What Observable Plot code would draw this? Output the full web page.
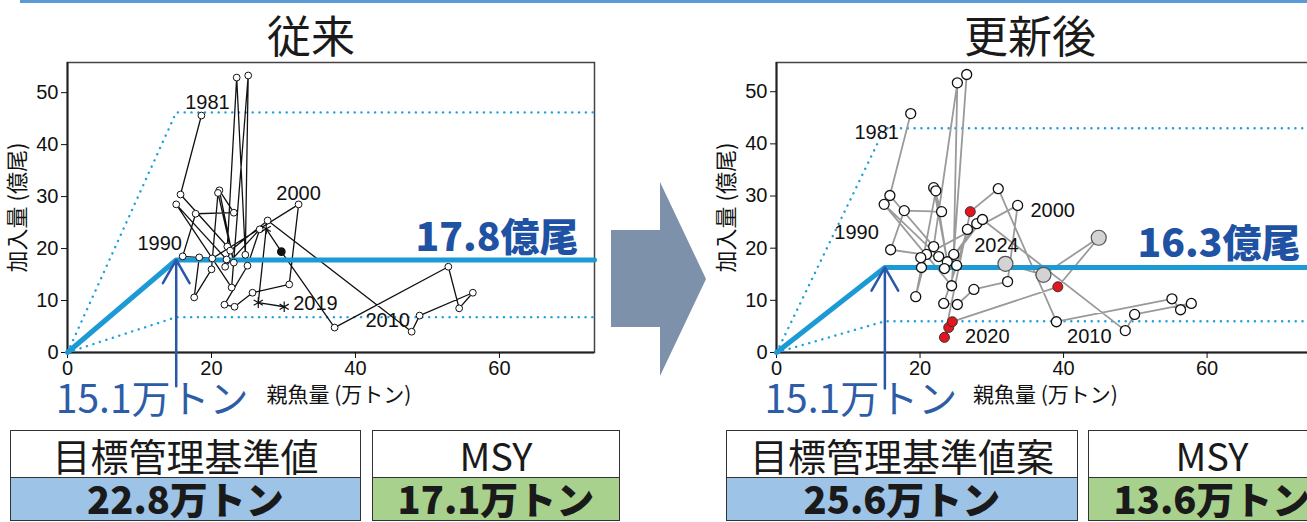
<!DOCTYPE html>
<html><head><meta charset="utf-8">
<script src="https://cdn.jsdelivr.net/npm/d3@7"></script>
<script src="https://cdn.jsdelivr.net/npm/@observablehq/plot@0.6"></script>
<style>
html,body{margin:0;padding:0;background:#fff;}
#wrap{position:relative;width:1307px;height:522px;overflow:hidden;font-family:"Noto Sans CJK JP",sans-serif;}
.title{position:absolute;top:10px;font-size:44px;line-height:48px;color:#1a1a1a;transform:translateX(-50%);white-space:nowrap;}
.cell{position:absolute;box-sizing:border-box;border:1.5px solid #333;display:flex;align-items:center;justify-content:center;white-space:nowrap;color:#1a1a1a;line-height:1;}
.hd{font-size:38px;height:49px;top:430px;background:#fff;}
.val{font-size:38px;font-weight:900;height:44px;top:477px;padding-bottom:2px;}
.plot{position:absolute;top:50px;}
.plot svg{max-width:none !important;}
</style></head><body>
<div id="wrap">
  <div style="position:absolute;left:20px;top:0;width:1300px;height:3px;background:#5b9bd5"></div>
  <div class="title" style="left:311px">従来</div>
  <div class="title" style="left:1030px">更新後</div>
  <svg style="position:absolute;left:0;top:0" width="1307" height="522"><polygon points="611,230 660,230 660,182 706,279 660,376 660,327 611,327" fill="#7d91aa"/></svg>
  <div id="left" class="plot" style="left:0px;width:620px"></div>
  <div id="right" class="plot" style="left:700px;width:630px"></div>
  <div id="tables"></div>
</div>
<script>
// ---------- data ----------
const oldYears = d3.range(1981, 2020);
const oldSSB = [18.6,15.7,22.2,23.5,24.7,25.1,22.8,15.1,22.1,16.0, 17.8,23.1,21.1,23.1,20.9,20.0,17.6,18.3,20.1,32.1, 30.8,25.7,23.2,21.8,25.0,26.7,21.9,22.6,27.8, 47.8,48.9,56.3,54.4,52.9,37.1,29.7,27.6,26.5,30.1];
const oldRec = [45.6,30.4,20.4,52.9,18.8,53.3,12.5,28.5,17.9,18.5, 26.7,26.9,31.2,17.3,30.7,16.0,10.6,18.3,18.1,28.5, 13.1,11.5,8.8,9.2,16.7,23.7,16.5,19.6,25.4, 4.0,7.1,11.5,8.5,16.5,4.8,19.4,23.8,9.6,8.8];
const oldKind = oldYears.map(y => y <= 2015 ? "open" : y === 2016 ? "filled" : "star");

const newYears = d3.range(1981, 2025);
const newSSB = [18.7,15.8,21.9,25.2,24.7,26.5,24.4,15.0,22.6,15.9, 17.8,23.0,21.9,23.8,22.2,20.2,19.4,20.9,20.1,33.6, 32.2,27.5,25.2,23.3,25.1,26.6,27.9,23.4,28.7, 48.6,49.9,57.8,56.3,55.1,39.0,30.9, 27.0,23.4,24.0,24.5,39.2, 44.9,37.2,31.9];
const newRec = [45.8,30.1,20.3,51.7,18.8,53.3,12.8,28.4,18.4,19.7, 27.2,27.0,31.6,17.4,31.0,16.3,10.7,18.8,18.2,28.2, 13.6,12.1,9.2,9.4,16.7,23.6,24.7,16.1,25.5, 4.2,7.3,9.4,8.2,10.3,5.9,31.4, 27.0,2.9,4.8,5.9,12.6, 22.0,14.9,17.0];
const newKind = newYears.map(y => y <= 2016 ? "open" : y <= 2021 ? "red" : "gray");

const bLimit = 15.1;                       // 万トン
const oldRecLevels = [6.8, 17.8, 46.2];    // 億尾 : low, target, high
const newRecLevels = [6.0, 16.3, 43.0];
const xTicks = [0, 20, 40, 60];
const yTicks = [0, 10, 20, 30, 40, 50];
const tableHeads = [["目標管理基準値", "MSY"], ["目標管理基準値案", "MSY"]];
const tableVals = [["22.8万トン", "17.1万トン"], ["25.6万トン", "13.6万トン"]];

const oldRows = oldYears.map((year, i) => ({year, ssb: oldSSB[i], rec: oldRec[i], kind: oldKind[i]}));
const newRows = newYears.map((year, i) => ({year, ssb: newSSB[i], rec: newRec[i], kind: newKind[i]}));

const JP = "Noto Sans CJK JP";
const BLUE = "#1b9ad6";

function hcr(level, xMax) { return [{x: 0, y: 0}, {x: bLimit, y: level}, {x: xMax, y: level}]; }

function panel(o) {
  const [lo, mid, hi] = o.levels;
  const marks = [
    Plot.frame({stroke: "#444", strokeWidth: 1.5}),
    Plot.ruleX([0], {stroke: "#222", strokeWidth: 2}),
    Plot.ruleY([0], {stroke: "#222", strokeWidth: 2}),
    Plot.axisY({ticks: yTicks, tickSize: 6, tickPadding: 3, label: null, fontSize: 20}),
    Plot.axisX({ticks: xTicks, tickSize: 6, tickPadding: 2, label: null, fontSize: 20}),
    Plot.line(hcr(hi, o.xMax), {x: "x", y: "y", stroke: "#1ea0dc", strokeWidth: 2.4, strokeDasharray: "0.1,6.7", strokeLinecap: "round"}),
    Plot.line(hcr(lo, o.xMax), {x: "x", y: "y", stroke: "#1ea0dc", strokeWidth: 2.4, strokeDasharray: "0.1,6.7", strokeLinecap: "round"}),
    Plot.line(o.rows, {x: "ssb", y: "rec", stroke: o.lineStroke, strokeWidth: o.lineWidth}),
    Plot.line(hcr(mid, o.xMax), {x: "x", y: "y", stroke: BLUE, strokeWidth: 5}),
    ...o.dots,
    ...o.labels.map(([year, dx, dy, anchor]) => Plot.text(o.rows.filter(d => d.year === year), {x: "ssb", y: "rec", text: d => String(d.year), dx, dy, textAnchor: anchor || "middle", lineAnchor: "middle", fontSize: 20, fill: "#111"})),
    Plot.arrow([bLimit], {x1: d => d, x2: d => d, y1: () => o.arrowFrom, y2: () => mid, stroke: "#2a57a8", strokeWidth: 2.5, headLength: 16, headAngle: 60}),
    Plot.text([mid], {y: d => d, frameAnchor: "right", textAnchor: "end", lineAnchor: "middle", dx: o.midDx, dy: o.midDy, text: d => d.toFixed(1) + "億尾", fontSize: 39, fontWeight: 900, fill: "#1f52a3", fontFamily: JP}),
    Plot.text([bLimit], {x: d => d, frameAnchor: "bottom", lineAnchor: "middle", dx: -24, dy: 48, text: d => d.toFixed(1) + "万トン", fontSize: 39, fill: "#2e5da8", fontFamily: JP}),
    Plot.text(["親魚量 (万トン)"], {frameAnchor: "bottom", lineAnchor: "middle", dx: o.xlabDx, dy: 43, text: d => d, fontSize: 21, fill: "#111", fontFamily: JP}),
    Plot.text(["加入量 (億尾)"], {frameAnchor: "left", textAnchor: "middle", lineAnchor: "middle", rotate: -90, dx: -50, text: d => d, fontSize: 22, fill: "#111", fontFamily: JP})
  ];
  return Plot.plot({
    width: o.width, height: 380,
    marginLeft: o.marginLeft, marginRight: o.marginRight, marginTop: 12, marginBottom: 78,
    x: {domain: [0, o.xMax]}, y: {domain: [0, o.yMax]},
    style: {fontFamily: "Liberation Sans, Arial, sans-serif", fontSize: "20px", color: "#111", overflow: "visible", background: "transparent", maxWidth: "none"},
    marks
  });
}

const leftPlot = panel({
  rows: oldRows, levels: oldRecLevels, xMax: 73.2, yMax: 55.8,
  width: 620, marginLeft: 67, marginRight: 26,
  lineStroke: "#111", lineWidth: 1.3, arrowFrom: -6.5, midDx: -16, midDy: -21, xlabDx: 8,
  dots: [
    Plot.dot(oldRows.filter(d => d.kind === "open"), {x: "ssb", y: "rec", r: 3.4, fill: "white", stroke: "#111", strokeWidth: 1}),
    Plot.dot(oldRows.filter(d => d.kind === "filled"), {x: "ssb", y: "rec", r: 3.6, fill: "#111", stroke: "#111"}),
    Plot.dot(oldRows.filter(d => d.kind === "star"), {x: "ssb", y: "rec", r: 5, symbol: "asterisk", stroke: "#111", strokeWidth: 1.2})
  ],
  labels: [[1981, 6, -13], [1990, -23, -13], [2000, 0, -11], [2010, -24, -11], [2019, 9, -3, "start"]]
});
document.getElementById("left").appendChild(leftPlot);

const rightPlot = panel({
  rows: newRows, levels: newRecLevels, xMax: 75.8, yMax: 55.6,
  width: 630, marginLeft: 76, marginRight: 10,
  lineStroke: "#9a9a9a", lineWidth: 1.8, arrowFrom: -6.9, midDx: -20, midDy: -23, xlabDx: -3,
  dots: [
    Plot.dot(newRows.filter(d => d.kind === "open"), {x: "ssb", y: "rec", r: 5, fill: "white", stroke: "#111", strokeWidth: 1.3}),
    Plot.dot(newRows.filter(d => d.kind === "red"), {x: "ssb", y: "rec", r: 5, fill: "#e3161e", stroke: "#333", strokeWidth: 1}),
    Plot.dot(newRows.filter(d => d.kind === "gray"), {x: "ssb", y: "rec", r: 7.5, fill: "#d3d3d3", stroke: "#555", strokeWidth: 1.2})
  ],
  labels: [[1981, -34, 19], [1990, -34, -17], [2000, 35, 5], [2010, -36, 6], [2020, 35, 15], [2024, -9, -18]]
});
document.getElementById("right").appendChild(rightPlot);

// ---------- tables ----------
const tbl = document.getElementById("tables");
const tableGeom = [{x0: 10, w0: 351, x1: 372, w1: 248}, {x0: 726, w0: 352, x1: 1088, w1: 248}];
const valFills = ["#9dc3e6", "#a9d18e"];
tableGeom.forEach((g, t) => {
  const cells = [
    ["hd", g.x0, g.w0, tableHeads[t][0], "#fff"],
    ["hd", g.x1, g.w1, tableHeads[t][1], "#fff"],
    ["val", g.x0, g.w0, tableVals[t][0], valFills[0]],
    ["val", g.x1, g.w1, tableVals[t][1], valFills[1]]
  ];
  cells.forEach(([cls, x, w, txt, bg]) => {
    const d = document.createElement("div");
    d.className = "cell " + cls;
    d.style.left = x + "px"; d.style.width = w + "px"; d.style.background = bg;
    d.textContent = txt;
    tbl.appendChild(d);
  });
});
</script>
</body></html>
